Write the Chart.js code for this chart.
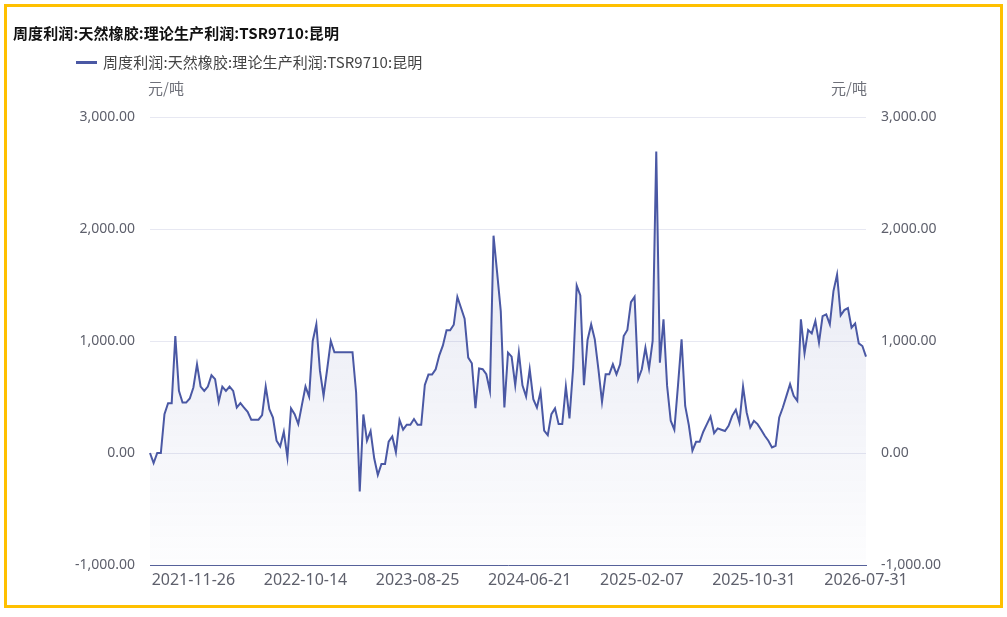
<!DOCTYPE html>
<html>
<head>
<meta charset="utf-8">
<script src="https://cdn.jsdelivr.net/npm/chart.js@4/dist/chart.umd.min.js"></script>
<style>
  html, body { margin: 0; padding: 0; background: #ffffff; }
  #wrap { position: relative; width: 1007px; height: 617px; overflow: hidden; background: #fff; }
  #frame { position: absolute; left: 4px; top: 4px; width: 999px; height: 604px; box-sizing: border-box; border: 3px solid #FFC000; pointer-events: none; }
  canvas { position: absolute; left: 0; top: 0; }
  .txt { position: absolute; white-space: nowrap; font-family: 'Noto Sans CJK SC', 'Noto Sans', sans-serif; line-height: 16px; height: 16px; }
  #title { left: 13px; top: 25px; font-size: 15px; font-weight: bold; color: #111; letter-spacing: 0.1px; }
  #legendLine { position: absolute; left: 76px; top: 61px; width: 21px; height: 3px; background: #4A58A4; }
  #legendText { left: 103px; top: 54px; font-size: 15px; color: #444; letter-spacing: 0.1px; }
  #unitL { left: 148px; top: 80px; font-size: 15px; color: #6E7079; }
  #unitR { right: 140px; top: 80px; font-size: 15px; color: #6E7079; }
</style>
</head>
<body>
<div id="wrap">
  <canvas id="c" width="1007" height="617" style="width:1007px;height:617px"></canvas>
  <div id="frame"></div>
  <div class="txt" id="title">周度利润:天然橡胶:理论生产利润:TSR9710:昆明</div>
  <div id="legendLine"></div>
  <div class="txt" id="legendText">周度利润:天然橡胶:理论生产利润:TSR9710:昆明</div>
  <div class="txt" id="unitL">元/吨</div>
  <div class="txt" id="unitR">元/吨</div>
</div>
<script>
// ---- data ----
const seriesName = '周度利润:天然橡胶:理论生产利润:TSR9710:昆明';
const unitLabel = '元/吨';
const tickLabels = ['2021-11-26', '2022-10-14', '2023-08-25', '2024-06-21', '2025-02-07', '2025-10-31', '2026-07-31'];
const tickEvery = 31;
const profit = [
  0, -90, 0, 0, 347, 445, 445, 1044, 555, 450,
  450, 487, 585, 792, 593, 555, 593, 694, 659, 457,
  593, 555, 593, 555, 406, 445, 406, 368, 297, 297,
  297, 338, 593, 392, 317, 110, 59, 190, -39, 398,
  347, 258, 427, 593, 504, 1000, 1148, 733, 510, 750,
  1000, 900, 900, 900, 900, 900, 900, 540, -344, 344,
  110, 196, -47, -196, -98, -98, 101, 148, 6, 294,
  208, 252, 252, 303, 252, 252, 608, 700, 700, 748,
  872, 961, 1095, 1095, 1145, 1394, 1297, 1199, 852, 801,
  400, 754, 748, 703, 555, 1940, 1608, 1267, 406, 896,
  860, 605, 896, 605, 504, 748, 481, 406, 546, 199,
  160, 347, 398, 258, 258, 593, 309, 754, 1495, 1406,
  605, 1009, 1148, 1015, 748, 457, 703, 703, 792, 703,
  792, 1044, 1098, 1347, 1394, 659, 748, 940, 754, 1000,
  2691, 807, 1193, 599, 288, 208, 600, 1015, 420, 250,
  21, 100, 100, 190, 258, 326, 178, 220, 208, 196,
  243, 332, 386, 273, 593, 362, 228, 288, 258, 208,
  154, 110, 50, 65, 317, 406, 510, 614, 510, 466,
  1193, 890, 1098, 1068, 1178, 985, 1222, 1237, 1148, 1445,
  1593, 1228, 1276, 1294, 1119, 1157, 979, 955, 860
];
const yMin = -1000, yMax = 3000, yStep = 1000;

// categories: weekly dates anchored on the visible tick labels
const N = profit.length;
const anchorIdx = tickLabels.map((_, m) => N - 1 - tickEvery * (tickLabels.length - 1 - m));
function fmt(d) { return d.toISOString().slice(0, 10); }
const categories = [];
for (let i = 0; i < N; i++) {
  let m = anchorIdx.findIndex(a => a >= i);
  const base = new Date(tickLabels[m] + 'T00:00:00Z');
  base.setUTCDate(base.getUTCDate() - 7 * (anchorIdx[m] - i));
  categories.push(fmt(base));
}

const lineColor = '#4A58A4';
const tickColor = '#5E606C';
const gridColor = '#E7E8F2';

Chart.defaults.font.family = "'Noto Sans', 'Noto Sans CJK SC', sans-serif";

new Chart(document.getElementById('c'), {
  type: 'line',
  data: {
    labels: categories,
    datasets: [{
      label: seriesName,
      data: profit,
      borderColor: lineColor,
      borderWidth: 2,
      pointRadius: 0,
      pointHoverRadius: 0,
      tension: 0,
      fill: 'start',
      backgroundColor: (ctx) => {
        const chart = ctx.chart;
        const area = chart.chartArea;
        if (!area) return 'rgba(74,88,164,0.08)';
        const g = chart.ctx.createLinearGradient(0, area.top, 0, area.bottom);
        g.addColorStop(0, 'rgba(74,88,164,0.17)');
        g.addColorStop(1, 'rgba(74,88,164,0.01)');
        return g;
      }
    }]
  },
  options: {
    responsive: false,
    animation: false,
    devicePixelRatio: 1,
    layout: { padding: { left: 0, right: 0, top: 117, bottom: 0 } },
    plugins: { legend: { display: false }, title: { display: false }, tooltip: { enabled: false } },
    scales: {
      x: {
        type: 'category',
        offset: false,
        grid: { display: false, drawTicks: false },
        border: { display: true, color: '#56619A', width: 1 },
        ticks: {
          autoSkip: false, maxRotation: 0, minRotation: 0, padding: 6,
          color: tickColor, font: { size: 16 },
          callback: function (val, idx) { return (N - 1 - idx) % tickEvery === 0 ? categories[idx] : null; }
        },
        afterFit: (s) => { s.height = 52; }
      },
      y: {
        position: 'left',
        min: yMin, max: yMax,
        grid: { color: gridColor, drawTicks: false, lineWidth: 1 },
        border: { display: false },
        ticks: {
          stepSize: yStep, padding: 15, color: tickColor, font: { size: 14 },
          callback: (v) => v.toLocaleString('en-US', { minimumFractionDigits: 2, maximumFractionDigits: 2 })
        },
        afterFit: (s) => { s.width = 150; }
      },
      y2: {
        position: 'right',
        min: yMin, max: yMax,
        grid: { display: false, drawTicks: false },
        border: { display: false },
        ticks: {
          stepSize: yStep, padding: 15, color: tickColor, font: { size: 14 },
          callback: (v) => v.toLocaleString('en-US', { minimumFractionDigits: 2, maximumFractionDigits: 2 })
        },
        afterFit: (s) => { s.width = 141; }
      }
    }
  }
});
</script>
</body>
</html>
